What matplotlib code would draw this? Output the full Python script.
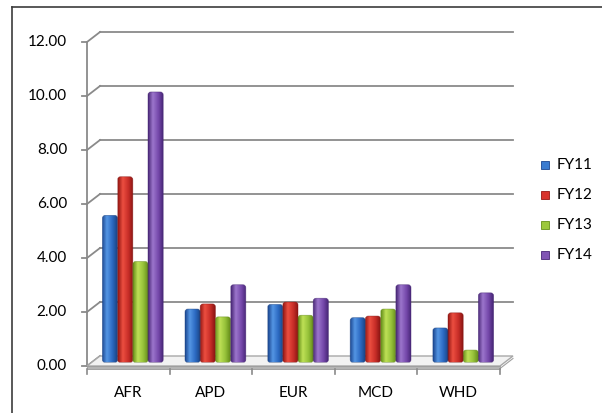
import numpy as np
import matplotlib
matplotlib.use("Agg")
import matplotlib.pyplot as plt
from matplotlib.lines import Line2D
from matplotlib.patches import FancyBboxPatch, Polygon, Rectangle
from matplotlib.colors import LinearSegmentedColormap

regions = ["AFR", "APD", "EUR", "MCD", "WHD"]
series = ["FY11", "FY12", "FY13", "FY14"]
fy11 = [5.45, 1.98, 2.15, 1.66, 1.28]
fy12 = [6.88, 2.17, 2.24, 1.72, 1.84]
fy13 = [3.74, 1.69, 1.75, 1.98, 0.46]
fy14 = [10.02, 2.88, 2.38, 2.88, 2.58]
yticks = [0, 2, 4, 6, 8, 10, 12]

# left edge, light, mid, right edge shades per series
SHADES = {
    "FY11": ["#1b4690", "#5496e4", "#2c6ac2", "#183f7e"],
    "FY12": ["#961814", "#ec4e40", "#c82e28", "#821210"],
    "FY13": ["#66901a", "#bee056", "#96c23a", "#608616"],
    "FY14": ["#482676", "#9c76cc", "#7649ac", "#412270"],
}
LEGEND_COLORS = {"FY11": "#3a7bd0", "FY12": "#d8342c", "FY13": "#9cc83c", "FY14": "#8054b4"}

W, H = 602, 413
FONT = dict(fontsize=11, family="Lato", color="black")
fig = plt.figure(figsize=(W / 100, H / 100), dpi=100)
fig.patch.set_facecolor("white")

# outer chart frame: top and left edges only (the rest runs off the image)
fig.add_artist(Line2D([12 / W, 12 / W], [0, (H - 7) / H], transform=fig.transFigure,
                      color="#3c3c3c", lw=1.2))
fig.add_artist(Line2D([12 / W, 1.0], [(H - 7) / H, (H - 7) / H], transform=fig.transFigure,
                      color="#3c3c3c", lw=1.2))

# axes = front plane of the plot area
x0, x1, y0, y1 = 87, 500, 366, 42
ax = fig.add_axes([x0 / W, (H - y0) / H, (x1 - x0) / W, (y0 - y1) / H])
ax.set_xlim(0, 5)
ax.set_ylim(0, 12)
ax.axis("off")

pxx = (x1 - x0) / 5.0
pxy = (y0 - y1) / 12.0
dx = 13 / pxx   # depth offset of back wall
dy = 10 / pxy
grid_c = "#8a8a8a"

# back wall gridlines + side wall diagonals
for v in yticks:
    if v > 0:
        ax.plot([dx, 5 + dx], [v + dy, v + dy], color=grid_c, lw=1.3, clip_on=False, zorder=1)
    ax.plot([0, dx], [v, v + dy], color=grid_c, lw=1.3, clip_on=False, zorder=1)
    ax.plot([-5 / pxx, 0], [v, v], color=grid_c, lw=1.3, clip_on=False, zorder=1)
    ax.text(-20 / pxx, v, f"{v:.2f}", ha="right", va="center", **FONT)
ax.plot([0, 0], [0, 12], color=grid_c, lw=1.3, clip_on=False, zorder=1)

# floor slab
floor = Polygon([(0, 0), (5, 0), (5 + dx, dy), (dx, dy)], closed=True,
                facecolor="#f2f2f2", edgecolor="#a8a8a8", lw=1.0, zorder=2, clip_on=False)
ax.add_patch(floor)
ax.add_patch(Polygon([(0, 0), (5, 0), (5, -2.5 / pxy), (0, -2.5 / pxy)], closed=True,
                     facecolor="#b4b4b4", edgecolor="#9a9a9a", lw=0.6, zorder=2, clip_on=False))
ax.plot([5, 5 + dx], [-2.5 / pxy, dy - 2.5 / pxy], color="#a0a0a0", lw=0.8, clip_on=False, zorder=2)

# category ticks and labels
for i in range(6):
    ax.plot([i, i], [-2.5 / pxy, -8 / pxy], color=grid_c, lw=1.2, clip_on=False, zorder=2)
for i, r in enumerate(regions):
    ax.text(i + 0.5, -27 / pxy, r, ha="center", va="center", **FONT)

# bars: cylinder-like columns with horizontal shading
values = [fy11, fy12, fy13, fy14]
bw = 15.2 / pxx
sx = 4.5 / pxx
sy = 3.5 / pxy
grad = np.linspace(0, 1, 64).reshape(1, -1)
for k, (name, vals) in enumerate(zip(series, values)):
    cmap = LinearSegmentedColormap.from_list(
        name, list(zip([0.0, 0.3, 0.65, 1.0], SHADES[name])))
    for i, v in enumerate(vals):
        left = i + 0.5 - 2 * bw + k * bw + sx
        bottom = sy
        top = v + sy
        box = FancyBboxPatch((left, bottom), bw, v,
                             boxstyle="round,pad=0,rounding_size=0.035",
                             mutation_aspect=pxx / pxy,
                             facecolor="none", edgecolor="none", zorder=3 + k * 0.01)
        ax.add_patch(box)
        im = ax.imshow(grad, cmap=cmap, extent=(left, left + bw, bottom, top),
                       aspect="auto", zorder=3 + k * 0.01, interpolation="bilinear")
        im.set_clip_path(box)
        edge = FancyBboxPatch((left, bottom), bw, v,
                              boxstyle="round,pad=0,rounding_size=0.035",
                              mutation_aspect=pxx / pxy,
                              facecolor="none", edgecolor=SHADES[name][3],
                              lw=0.5, alpha=0.6, zorder=3.05 + k * 0.01)
        ax.add_patch(edge)

ax.set_xlim(0, 5)
ax.set_ylim(0, 12)

# legend
for j, name in enumerate(series):
    yc = 165 + 30 * j
    fig.add_artist(Rectangle((541 / W, (H - yc - 4) / H), 8 / W, 8 / H,
                             transform=fig.transFigure, facecolor=LEGEND_COLORS[name],
                             edgecolor=SHADES[name][0], lw=0.6))
    fig.text(557 / W, (H - yc) / H, name, ha="left", va="center", **FONT)

fig.savefig("out.png", dpi=100)
